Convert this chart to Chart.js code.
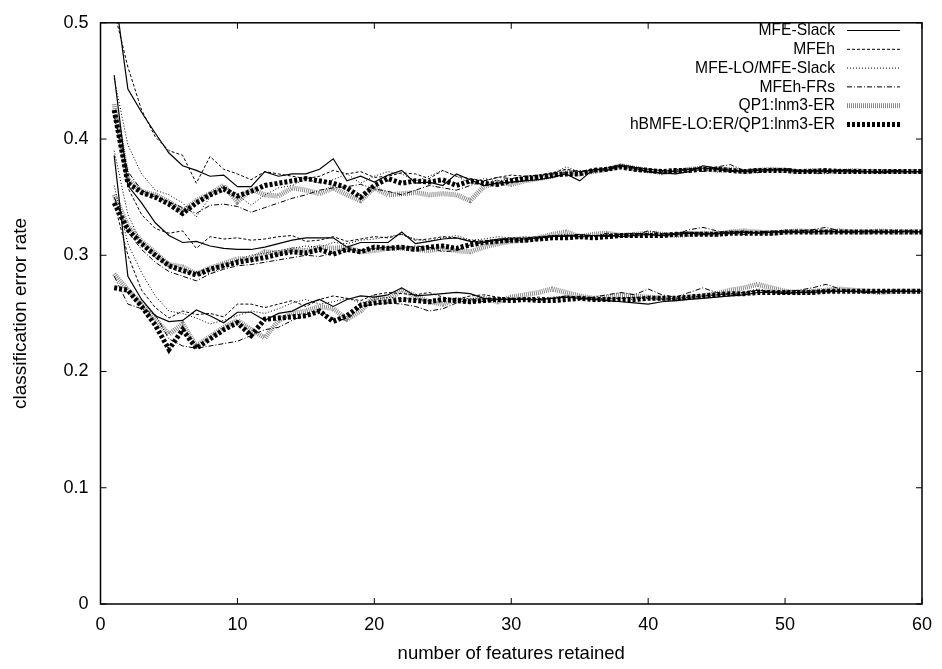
<!DOCTYPE html>
<html>
<head>
<meta charset="utf-8">
<script src="https://cdn.jsdelivr.net/npm/chart.js@4/dist/chart.umd.min.js"></script>
<style>
html,body{margin:0;padding:0;background:#fff;}
#wrap{width:942px;height:669px;}
</style>
</head>
<body>
<div id="wrap"><canvas id="c" width="942" height="669"></canvas></div>
<script>
// ---------- data ----------
const xValues = [];
for (let i = 1; i <= 60; i++) xValues.push(i);

const seriesNames = ['MFE-Slack','MFEh','MFE-LO/MFE-Slack','MFEh-FRs','QP1:lnm3-ER','hBMFE-LO:ER/QP1:lnm3-ER'];
const xTickLabels = ['0','10','20','30','40','50','60'];
const yTickLabels = ['0','0.1','0.2','0.3','0.4','0.5'];

// top group
const topSlack = [0.530,0.443,0.423,0.405,0.388,0.377,0.373,0.368,0.369,0.359,
  0.359,0.372,0.368,0.370,0.370,0.374,0.383,0.364,0.368,0.363,
  0.369,0.373,0.362,0.363,0.360,0.370,0.365,0.360,0.362,0.363,
  0.364,0.365,0.367,0.370,0.364,0.374,0.373,0.377,0.375,0.372,
  0.371,0.370,0.372,0.377,0.375,0.373,0.372,0.373,0.374,0.373,
  0.372,0.373,0.372,0.373,0.372,0.372,0.371,0.372,0.372,0.372];
const topMFEh = [0.510,0.462,0.425,0.402,0.390,0.386,0.362,0.385,0.374,0.370,
  0.365,0.372,0.370,0.368,0.366,0.368,0.373,0.370,0.372,0.367,
  0.368,0.371,0.370,0.366,0.373,0.368,0.366,0.364,0.367,0.369,
  0.368,0.369,0.371,0.374,0.372,0.373,0.375,0.378,0.376,0.374,
  0.373,0.372,0.374,0.375,0.374,0.372,0.373,0.374,0.373,0.374,
  0.373,0.372,0.373,0.372,0.373,0.372,0.372,0.373,0.372,0.372];
const topLO = [0.452,0.395,0.370,0.356,0.352,0.345,0.333,0.350,0.360,0.352,
  0.343,0.352,0.358,0.360,0.366,0.362,0.365,0.370,0.362,0.368,
  0.372,0.370,0.364,0.368,0.373,0.368,0.362,0.366,0.364,0.366,
  0.367,0.368,0.370,0.376,0.372,0.374,0.375,0.376,0.373,0.371,
  0.372,0.374,0.373,0.374,0.376,0.374,0.372,0.371,0.373,0.374,
  0.372,0.373,0.374,0.372,0.371,0.372,0.373,0.372,0.371,0.372];
const topFRs = [0.420,0.372,0.356,0.350,0.346,0.341,0.336,0.343,0.344,0.342,
  0.337,0.341,0.345,0.349,0.352,0.356,0.358,0.359,0.361,0.357,
  0.355,0.352,0.356,0.360,0.358,0.356,0.360,0.364,0.367,0.366,
  0.368,0.369,0.370,0.371,0.373,0.372,0.374,0.377,0.375,0.372,
  0.370,0.373,0.375,0.372,0.376,0.378,0.373,0.371,0.374,0.375,
  0.373,0.371,0.370,0.374,0.373,0.372,0.371,0.373,0.372,0.372];
const topQP1 = [0.430,0.365,0.355,0.352,0.346,0.338,0.347,0.353,0.360,0.346,
  0.357,0.352,0.351,0.358,0.356,0.353,0.358,0.352,0.347,0.358,
  0.352,0.353,0.354,0.352,0.353,0.352,0.347,0.359,0.363,0.361,
  0.364,0.366,0.368,0.372,0.370,0.372,0.374,0.377,0.375,0.373,
  0.371,0.372,0.374,0.375,0.373,0.374,0.372,0.373,0.374,0.373,
  0.372,0.373,0.372,0.372,0.373,0.372,0.372,0.372,0.372,0.372];
const topHB = [0.425,0.362,0.354,0.350,0.344,0.336,0.345,0.352,0.357,0.351,
  0.355,0.360,0.362,0.364,0.366,0.364,0.362,0.358,0.350,0.360,
  0.366,0.362,0.364,0.363,0.365,0.360,0.364,0.362,0.361,0.364,
  0.366,0.367,0.369,0.370,0.370,0.373,0.374,0.376,0.374,0.373,
  0.372,0.373,0.373,0.374,0.374,0.373,0.372,0.373,0.373,0.373,
  0.372,0.372,0.373,0.372,0.372,0.372,0.372,0.372,0.372,0.372];

// middle group
const midSlack = [0.455,0.360,0.345,0.328,0.317,0.311,0.312,0.308,0.306,0.305,
  0.305,0.307,0.310,0.313,0.315,0.315,0.315,0.307,0.311,0.311,
  0.311,0.320,0.310,0.312,0.314,0.315,0.312,0.311,0.313,0.314,
  0.314,0.315,0.316,0.317,0.316,0.317,0.317,0.316,0.317,0.318,
  0.317,0.318,0.319,0.318,0.319,0.319,0.320,0.319,0.320,0.320,
  0.320,0.320,0.321,0.320,0.320,0.321,0.320,0.320,0.321,0.320];
const midMFEh = [0.420,0.358,0.335,0.323,0.319,0.321,0.306,0.316,0.314,0.315,
  0.313,0.314,0.316,0.317,0.312,0.313,0.316,0.312,0.314,0.316,
  0.315,0.318,0.313,0.314,0.316,0.315,0.313,0.312,0.314,0.315,
  0.315,0.316,0.317,0.316,0.318,0.317,0.316,0.318,0.319,0.318,
  0.317,0.319,0.320,0.319,0.318,0.320,0.321,0.319,0.320,0.321,
  0.320,0.321,0.320,0.320,0.321,0.320,0.321,0.320,0.320,0.320];
const midLO = [0.390,0.335,0.310,0.298,0.290,0.285,0.286,0.284,0.290,0.296,
  0.300,0.302,0.304,0.306,0.308,0.307,0.311,0.310,0.313,0.314,
  0.316,0.318,0.314,0.312,0.315,0.317,0.313,0.314,0.316,0.315,
  0.316,0.315,0.317,0.318,0.316,0.317,0.318,0.317,0.318,0.319,
  0.318,0.319,0.320,0.319,0.320,0.321,0.320,0.319,0.320,0.321,
  0.320,0.320,0.321,0.320,0.321,0.320,0.320,0.321,0.320,0.320];
const midFRs = [0.350,0.320,0.305,0.294,0.286,0.282,0.278,0.284,0.288,0.291,
  0.292,0.294,0.296,0.298,0.300,0.299,0.302,0.305,0.304,0.306,
  0.307,0.306,0.308,0.307,0.303,0.304,0.309,0.311,0.313,0.312,
  0.313,0.315,0.316,0.317,0.318,0.316,0.319,0.318,0.317,0.321,
  0.319,0.318,0.322,0.324,0.321,0.319,0.318,0.320,0.321,0.320,
  0.321,0.322,0.324,0.321,0.320,0.319,0.320,0.321,0.320,0.320];
const midQP1 = [0.352,0.325,0.312,0.302,0.292,0.290,0.284,0.289,0.293,0.297,
  0.297,0.303,0.302,0.305,0.304,0.307,0.306,0.307,0.303,0.304,
  0.306,0.306,0.305,0.304,0.306,0.304,0.303,0.307,0.310,0.312,
  0.313,0.315,0.318,0.320,0.316,0.318,0.319,0.317,0.318,0.319,
  0.318,0.317,0.318,0.319,0.318,0.320,0.321,0.320,0.319,0.320,
  0.321,0.320,0.320,0.321,0.320,0.320,0.321,0.320,0.320,0.320];
const midHB = [0.345,0.322,0.310,0.300,0.291,0.287,0.283,0.288,0.291,0.294,
  0.296,0.298,0.301,0.303,0.302,0.305,0.301,0.305,0.303,0.307,
  0.306,0.307,0.305,0.307,0.308,0.306,0.309,0.311,0.312,0.313,
  0.313,0.314,0.315,0.315,0.316,0.315,0.316,0.317,0.317,0.317,
  0.317,0.318,0.318,0.318,0.318,0.319,0.319,0.319,0.319,0.320,
  0.320,0.320,0.320,0.320,0.320,0.320,0.320,0.320,0.320,0.320];

// bottom group
const botSlack = [0.386,0.282,0.262,0.248,0.243,0.244,0.253,0.248,0.242,0.251,
  0.251,0.244,0.250,0.252,0.258,0.262,0.256,0.262,0.265,0.264,
  0.266,0.272,0.265,0.266,0.267,0.268,0.267,0.263,0.262,0.262,
  0.262,0.262,0.263,0.264,0.263,0.262,0.261,0.260,0.259,0.258,
  0.260,0.261,0.262,0.263,0.264,0.265,0.266,0.268,0.268,0.267,
  0.268,0.268,0.269,0.269,0.269,0.268,0.269,0.269,0.269,0.269];
const botMFEh = [0.345,0.300,0.270,0.255,0.246,0.252,0.249,0.250,0.247,0.258,
  0.258,0.255,0.258,0.261,0.256,0.262,0.265,0.263,0.261,0.266,
  0.268,0.267,0.266,0.268,0.264,0.262,0.265,0.266,0.264,0.263,
  0.263,0.264,0.263,0.265,0.264,0.263,0.262,0.263,0.264,0.263,
  0.262,0.263,0.264,0.265,0.266,0.267,0.268,0.270,0.269,0.268,
  0.268,0.269,0.270,0.269,0.269,0.269,0.268,0.269,0.269,0.269];
const botLO = [0.360,0.310,0.285,0.265,0.252,0.250,0.246,0.241,0.244,0.248,
  0.252,0.250,0.254,0.259,0.262,0.258,0.260,0.263,0.259,0.262,
  0.264,0.263,0.262,0.261,0.263,0.262,0.263,0.262,0.263,0.262,
  0.263,0.262,0.264,0.265,0.264,0.262,0.263,0.263,0.262,0.264,
  0.263,0.262,0.263,0.265,0.266,0.267,0.268,0.271,0.269,0.268,
  0.269,0.270,0.268,0.269,0.270,0.269,0.268,0.269,0.269,0.269];
const botFRs = [0.282,0.258,0.254,0.249,0.228,0.222,0.220,0.222,0.224,0.226,
  0.231,0.236,0.238,0.244,0.249,0.252,0.246,0.244,0.256,0.258,
  0.259,0.258,0.256,0.252,0.254,0.259,0.262,0.260,0.262,0.263,
  0.262,0.261,0.263,0.265,0.262,0.264,0.266,0.268,0.266,0.271,
  0.266,0.264,0.268,0.272,0.268,0.266,0.267,0.270,0.268,0.269,
  0.270,0.272,0.275,0.271,0.269,0.268,0.269,0.270,0.269,0.269];
const botQP1 = [0.284,0.270,0.258,0.245,0.232,0.241,0.222,0.230,0.238,0.244,
  0.236,0.229,0.244,0.250,0.252,0.256,0.254,0.245,0.252,0.264,
  0.262,0.270,0.265,0.260,0.258,0.262,0.261,0.263,0.260,0.264,
  0.266,0.268,0.271,0.268,0.265,0.263,0.264,0.266,0.265,0.264,
  0.263,0.262,0.264,0.265,0.267,0.270,0.272,0.275,0.272,0.269,
  0.268,0.269,0.270,0.271,0.270,0.269,0.268,0.269,0.269,0.269];
const botHB = [0.272,0.270,0.256,0.240,0.219,0.236,0.220,0.228,0.236,0.242,
  0.231,0.245,0.246,0.247,0.248,0.252,0.243,0.248,0.257,0.259,
  0.260,0.262,0.261,0.260,0.262,0.261,0.260,0.261,0.262,0.261,
  0.262,0.261,0.261,0.262,0.263,0.262,0.262,0.262,0.262,0.263,
  0.263,0.263,0.264,0.265,0.266,0.267,0.267,0.268,0.268,0.268,
  0.268,0.268,0.269,0.269,0.269,0.269,0.269,0.269,0.269,0.269];

// ---------- styles ----------
const styles = [
  {color:'#000', width:1.2, dash:[], order:1},
  {color:'#000', width:1, dash:[3,2], order:1},
  {color:'#000', width:1, dash:[1,2], order:1},
  {color:'#000', width:1, dash:[5,2,1,2], order:1},
  {color:'#8a8a8a', width:5, dash:[1,1], order:3},
  {color:'#000', width:5, dash:[3,2], order:2}
];
const groups = [
  [topSlack, topMFEh, topLO, topFRs, topQP1, topHB],
  [midSlack, midMFEh, midLO, midFRs, midQP1, midHB],
  [botSlack, botMFEh, botLO, botFRs, botQP1, botHB]
];

const datasets = [];
groups.forEach((g, gi) => {
  g.forEach((vals, si) => {
    const st = styles[si];
    datasets.push({
      label: seriesNames[si],
      data: vals.map((v, i) => ({x: xValues[i], y: v})),
      borderColor: st.color,
      borderWidth: st.width,
      borderDash: st.dash,
      pointRadius: 0,
      fill: false,
      tension: 0,
      order: st.order
    });
  });
});

const FONT = '"Liberation Sans", Arial, Helvetica, sans-serif';

// frame with inward ticks on all four sides
const framePlugin = {
  id: 'frame',
  afterDatasetsDraw(chart) {
    const {ctx, chartArea: a, scales} = chart;
    ctx.save();
    ctx.strokeStyle = '#000';
    ctx.lineWidth = 1.5;
    ctx.strokeRect(a.left, a.top, a.right - a.left, a.bottom - a.top);
    ctx.lineWidth = 1;
    const tl = 6;
    scales.x.ticks.forEach((t, i) => {
      const px = scales.x.getPixelForTick(i);
      ctx.beginPath();
      ctx.moveTo(px, a.bottom); ctx.lineTo(px, a.bottom - tl);
      ctx.moveTo(px, a.top); ctx.lineTo(px, a.top + tl);
      ctx.stroke();
    });
    scales.y.ticks.forEach((t, i) => {
      const py = scales.y.getPixelForTick(i);
      ctx.beginPath();
      ctx.moveTo(a.left, py); ctx.lineTo(a.left + tl, py);
      ctx.moveTo(a.right, py); ctx.lineTo(a.right - tl, py);
      ctx.stroke();
    });
    ctx.restore();
  }
};

// gnuplot-style key: right-aligned (slightly condensed) text followed by line sample
const keyPlugin = {
  id: 'key',
  afterDraw(chart) {
    const {ctx} = chart;
    const textRight = 835, x0 = 847, x1 = 900, y0 = 30.5, step = 18.8, squeeze = 0.92;
    seriesNames.forEach((name, i) => {
      const y = y0 + i * step;
      ctx.save();
      ctx.font = '17px ' + FONT;
      ctx.fillStyle = '#000';
      ctx.textAlign = 'right';
      ctx.textBaseline = 'middle';
      ctx.translate(textRight, y);
      ctx.scale(squeeze, 1);
      ctx.fillText(name, 0, 0);
      ctx.restore();
      const st = styles[i];
      ctx.save();
      ctx.beginPath();
      ctx.strokeStyle = st.color;
      ctx.lineWidth = st.width;
      ctx.setLineDash(st.dash);
      ctx.moveTo(x0, y); ctx.lineTo(x1, y);
      ctx.stroke();
      ctx.restore();
    });
  }
};

new Chart(document.getElementById('c'), {
  type: 'line',
  data: {datasets},
  options: {
    responsive: false,
    animation: false,
    devicePixelRatio: 1,
    layout: {padding: {left: 0, top: 15.5, right: 17, bottom: 0}},
    plugins: {legend: {display: false}, tooltip: {enabled: false}},
    scales: {
      x: {
        type: 'linear', min: 0, max: 60,
        afterFit: s => { s.height = 65; },
        grid: {display: false, drawTicks: false},
        border: {display: false},
        ticks: {
          stepSize: 10, padding: 10, color: '#000',
          font: {family: FONT, size: 18},
          callback: (v, i) => xTickLabels[i]
        },
        title: {display: true, text: 'number of features retained', color: '#000',
          font: {family: FONT, size: 18.5}, padding: {top: 0, bottom: 4}}
      },
      y: {
        type: 'linear', min: 0, max: 0.5,
        afterFit: s => { s.width = 100.5; },
        grid: {display: false, drawTicks: false},
        border: {display: false},
        ticks: {
          stepSize: 0.1, padding: 12, color: '#000',
          font: {family: FONT, size: 18},
          callback: (v, i) => yTickLabels[i]
        },
        title: {display: true, text: 'classification error rate', color: '#000',
          font: {family: FONT, size: 19}, padding: {top: 9.5, bottom: 0}}
      }
    }
  },
  plugins: [framePlugin, keyPlugin]
});
</script>
</body>
</html>
